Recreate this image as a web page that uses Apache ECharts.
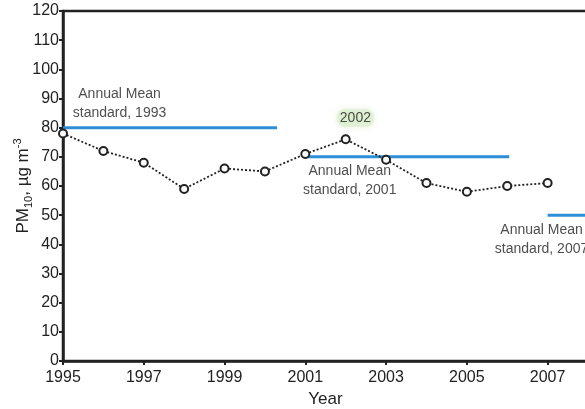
<!DOCTYPE html>
<html>
<head>
<meta charset="utf-8">
<script src="https://cdn.jsdelivr.net/npm/echarts@6/dist/echarts.min.js"></script>
<style>
  html, body { margin: 0; padding: 0; background: #fff; }
  #chart { width: 585px; height: 409px; }
</style>
</head>
<body>
<div id="chart"></div>
<script>
// Annual mean PM10 concentration by year
const years = [1995, 1996, 1997, 1998, 1999, 2000, 2001, 2002, 2003, 2004, 2005, 2006, 2007];
const pm10 = [78, 72, 68, 59, 66, 65, 71, 76, 69, 61, 58, 60, 61];

// Annual mean standards: value and the span of years each one is drawn over
const stdValues = [80, 70, 50];
const stdStart = [1995, 2001, 2007];
const stdEnd = [2000.3, 2006.05, 2008];
const stdLabels = ['Annual Mean\nstandard, 1993', 'Annual Mean\nstandard, 2001', 'Annual Mean\nstandard, 2007'];
// where each standard's caption sits, in year / value units
const stdLabelX = [1996.4, 2002.1, 2006.85];
const stdLabelY = [88.3, 61.9, 41.5];

// Axis ticks
const xTicks = [1995, 1997, 1999, 2001, 2003, 2005, 2007];
const yTicks = [0, 10, 20, 30, 40, 50, 60, 70, 80, 90, 100, 110, 120];

const FONT = '"Liberation Sans", Arial, Helvetica, sans-serif';
const INK = '#222';
const BLUE = '#2b8ed6';

const series = [];

stdValues.forEach((v, i) => {
  series.push({
    type: 'line',
    data: [[stdStart[i], v], [stdEnd[i], v]],
    symbol: 'none',
    lineStyle: { color: BLUE, width: 3 },
    z: 2,
    silent: true
  });
});

series.push({
  type: 'line',
  data: years.map((y, i) => [y, pm10[i]]),
  symbol: 'circle',
  symbolSize: 8,
  itemStyle: { color: '#fbfbfb', borderColor: INK, borderWidth: 2 },
  lineStyle: { color: '#222', width: 1.8, type: [2, 2] },
  z: 5,
  silent: true
});

// captions for the three standards
series.push({
  type: 'scatter',
  symbolSize: 0,
  silent: true,
  data: stdLabels.map((t, i) => ({ value: [stdLabelX[i], stdLabelY[i]], name: t })),
  label: {
    show: true,
    position: 'inside',
    formatter: p => p.name,
    fontFamily: FONT,
    fontSize: 14,
    lineHeight: 19,
    color: '#222',
    align: 'center',
    verticalAlign: 'middle'
  },
  z: 6
});

// highlighted peak year
series.push({
  type: 'scatter',
  symbolSize: 0,
  silent: true,
  data: [{ value: [2002.24, 83.3], name: '2002' }],
  label: {
    show: true,
    position: 'inside',
    formatter: p => p.name,
    fontFamily: FONT,
    fontSize: 14,
    color: '#222',
    backgroundColor: 'rgba(214,236,200,0.7)',
    borderRadius: 8,
    padding: [2, 3],
    shadowColor: 'rgba(205,232,188,0.9)',
    shadowBlur: 6
  },
  z: 6
});

const chart = echarts.init(document.getElementById('chart'), null, { renderer: 'canvas' });
chart.setOption({
  animation: false,
  backgroundColor: '#fff',
  grid: {
    left: 63, right: -3, top: 11, bottom: 48,
    containLabel: false,
    outerBoundsMode: 'none',
    show: true, borderColor: INK, borderWidth: 2.5, backgroundColor: 'transparent'
  },
  xAxis: {
    type: 'value',
    min: 1995, max: 2008,
    name: 'Year',
    nameLocation: 'middle',
    nameGap: 30,
    nameMoveOverlap: false,
    nameTextStyle: { fontFamily: FONT, fontSize: 17, color: INK },
    axisLine: { show: true, lineStyle: { color: INK, width: 2.5 } },
    axisTick: { show: true, length: 4, inside: false, customValues: xTicks, lineStyle: { color: INK, width: 2 } },
    axisLabel: {
      customValues: xTicks, fontFamily: FONT, fontSize: 16, color: INK, margin: 9,
      formatter: v => String(v)
    },
    splitLine: { show: false }
  },
  yAxis: {
    type: 'value',
    min: 0, max: 120,
    name: '{m|PM}{s|10}{m|, µg m}{p|-3}',
    nameLocation: 'middle',
    nameRotate: 90,
    nameGap: 29,
    nameMoveOverlap: false,
    nameTextStyle: {
      fontFamily: FONT, color: INK,
      rich: {
        m: { fontFamily: FONT, fontSize: 17, color: INK, lineHeight: 22, verticalAlign: 'middle' },
        s: { fontFamily: FONT, fontSize: 11, color: INK, lineHeight: 11, verticalAlign: 'bottom', padding: [8, 0, 0, 0] },
        p: { fontFamily: FONT, fontSize: 11, color: INK, lineHeight: 11, verticalAlign: 'top', padding: [0, 0, 8, 0] }
      }
    },
    axisLine: { show: true, lineStyle: { color: INK, width: 2.5 } },
    axisTick: { show: true, length: 4, customValues: yTicks, lineStyle: { color: INK, width: 2 } },
    axisLabel: { customValues: yTicks, fontFamily: FONT, fontSize: 16, color: INK, margin: 4 },
    splitLine: { show: false }
  },
  series: series
});
</script>
</body>
</html>
